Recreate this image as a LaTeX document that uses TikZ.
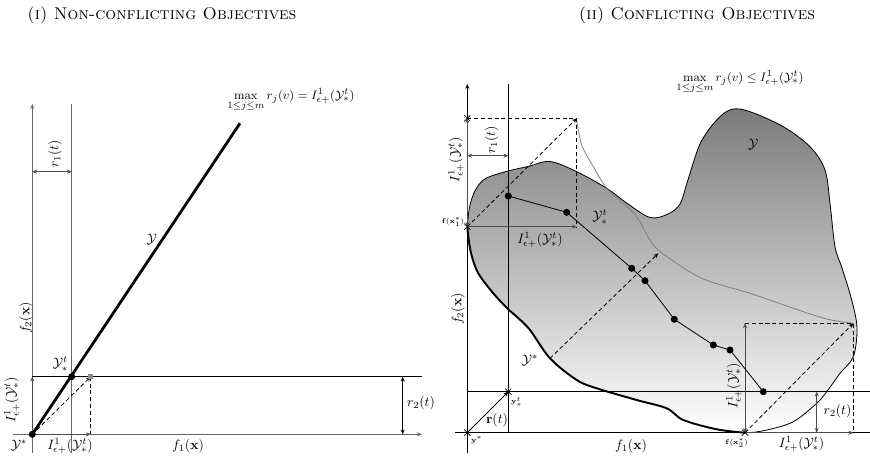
\documentclass[tikz,border=0pt]{standalone}
\usepackage{amsmath,amssymb}
\usetikzlibrary{arrows.meta,shapes.misc}
\tikzset{
  axisline/.style={line width=0.6pt, draw=black},
  gaxis/.style={line width=0.8pt, draw=black!60},
  dimarrow/.style={{Stealth[length=3.5pt,width=3pt]}-{Stealth[length=3.5pt,width=3pt]}, draw=black!70, line width=0.7pt},
  dimone/.style={-{Stealth[length=3.5pt,width=3pt]}, draw=black!70, line width=0.7pt},
  dsh/.style={dashed, line width=0.6pt, dash pattern=on 3pt off 2pt},
  dsharrow/.style={dsh, -{Stealth[length=3.5pt,width=3pt]}},
  bigdot/.style={circle, fill=black, inner sep=0pt, minimum size=5.2pt},
  xmark/.style={cross out, draw=black, inner sep=0pt, minimum size=4pt, line width=0.5pt},
  tinylbl/.style={font=\tiny, inner sep=1pt},
  lbl/.style={inner sep=1pt},
  titlelbl/.style={inner sep=1pt, font=\fontsize{12.5}{15}\selectfont},
  maxlbl/.style={inner sep=1pt, font=\fontsize{9.5}{11}\selectfont},
}
\begin{document}
\begin{tikzpicture}[x=0.735pt,y=-0.735pt]
\useasboundingbox (0,0) rectangle (870,461);

% titles
\node[titlelbl] (t1) at (162,15) {\textsc{(i) Non-conflicting Objectives}};
\node[titlelbl] (t2) at (697,15) {\textsc{(ii) Conflicting Objectives}};

%%%%%%%%%%%%%%%% LEFT PANEL
\coordinate (O1) at (32.3,434.3);
\coordinate (O1b) at (32.3,453);
\coordinate (O1t) at (32.3,104);
\coordinate (V1b) at (71.7,453);
\coordinate (V1t) at (71.7,104);
\coordinate (X1l) at (13,434.3);
\coordinate (X1r) at (421.7,434.3);
\coordinate (H1l) at (32.3,376.7);
\coordinate (H1r) at (421.7,376.7);
\coordinate (YT1) at (71.7,376.7);
\coordinate (Q1) at (90.7,376.7);
\coordinate (Q1b) at (90.7,434.3);
\coordinate (L1) at (240,123.3);
\coordinate (R1a) at (32.3,171.7);
\coordinate (R1b) at (71.7,171.7);
\coordinate (R2a) at (402.7,376.7);
\coordinate (R2b) at (402.7,434.3);

\draw[gaxis,-{Stealth[length=3.5pt,width=3pt]}] (O1b) -- (O1t);
\draw[gaxis] (V1b) -- (V1t);
\draw[gaxis,-{Stealth[length=3.5pt,width=3pt]}] (X1l) -- (X1r);
\draw[axisline] (H1l) -- (H1r);
\draw[dimarrow] (R1a) -- (R1b);
\draw[dimarrow,draw=black] (R2a) -- (R2b);
\draw[dimone,line width=1pt] (O1) -- (H1l);
\draw[dimone] (O1) -- (Q1b);
\draw[dsharrow] (O1) -- (Q1);
\draw[dsh] (Q1) -- (Q1b);
\draw[line width=2pt] (O1) -- (L1);
\node[fill=black!45, inner sep=0pt, minimum size=4pt] (sq) at (Q1) {};
\node[bigdot] (d1) at (O1) {};
\node[bigdot] (d2) at (YT1) {};

\node[lbl] (ly1) at (151.7,240) {$\mathcal{Y}$};
\node[maxlbl] (mx1) at (291,100) {$\max\limits_{1\le j\le m} r_j(v) = I^1_{\epsilon+}(\mathcal{Y}^t_*)$};
\node[lbl] (lyt1) at (60.5,364) {$\mathcal{Y}^t_*$};
\node[lbl] (lys1) at (19,445) {$\mathcal{Y}^*$};
\node[lbl] (li1) at (70,446) {$I^1_{\epsilon+}(\mathcal{Y}^t_*)$};
\node[lbl,rotate=90] (li1v) at (12,400) {$I^1_{\epsilon+}(\mathcal{Y}^t_*)$};
\node[lbl,rotate=90] (lf2a) at (26,318) {$f_2(\mathbf{x})$};
\node[lbl] (lf1a) at (188,446) {$f_1(\mathbf{x})$};
\node[lbl,rotate=90] (lr1a) at (55,154) {$r_1(t)$};
\node[lbl] (lr2a) at (421,403) {$r_2(t)$};

%%%%%%%%%%%%%%%% RIGHT PANEL
\coordinate (O2) at (467.3,432.7);
\coordinate (O2b) at (467.3,453);
\coordinate (O2t) at (467.3,84);
\coordinate (V2b) at (508.3,432.7);
\coordinate (V2t) at (508.3,84);
\coordinate (X2l) at (455,432.7);
\coordinate (X2r) at (870,432.7);
\coordinate (H2l) at (467.3,391.7);
\coordinate (H2r) at (870,391.7);
\coordinate (T2) at (508.3,391.7);
\coordinate (F1) at (467.3,226.7);
\coordinate (A1) at (467.3,118.3);
\coordinate (B1) at (576.7,118.3);
\coordinate (C1) at (576.7,226.7);
\coordinate (F2) at (745,432.7);
\coordinate (A2) at (745,323.3);
\coordinate (B2) at (853.3,323.3);
\coordinate (C2) at (853.3,432.7);
\coordinate (S1) at (467.3,155.7);
\coordinate (S2) at (508.3,155.7);
\coordinate (U1) at (816.7,391.7);
\coordinate (U2) at (816.7,432.7);
\coordinate (M1) at (550,358.3);
\coordinate (M2) at (658.3,253.3);

% region
\shade[top color=black!52, bottom color=white, draw=black, line width=0.6pt]
 plot[smooth cycle, tension=0.55] coordinates {
 (467.3,226.7) (470,205) (476,189) (486,178.3) (508,171) (528,166.5) (550,161.5)
 (576.7,171.7) (606.7,188.3) (626.7,203) (650,217.5) (668,214) (680,204)
 (687,183) (700,144) (716.7,120) (731.7,109.3) (750,111.7) (783.3,126.7)
 (810,146.7) (825,170) (830,203.3) (835,246.7) (842,268) (851.7,300) (857,328)
 (853.3,356.7) (840,373.3) (826.7,391.7) (816.7,403.3) (793.3,421.7) (766.7,430)
 (745,432.7) (716.7,429.3) (683.3,420) (666.7,408.3) (636.7,400) (596.7,388.3)
 (576.7,380) (550,358.3) (530,330) (516.7,316.7) (508.3,309.3) (493.3,293.3)
 (478.3,273.3) (471.5,255) (468.3,237)};
% Pareto front
\draw[line width=1.4pt] plot[smooth, tension=0.55] coordinates {
 (745,432.7) (716.7,429.3) (683.3,420) (666.7,408.3) (636.7,400) (596.7,388.3)
 (576.7,380) (550,358.3) (530,330) (516.7,316.7) (508.3,309.3) (493.3,293.3)
 (478.3,273.3) (471.5,255) (468.3,237) (467.3,226.7)};
% grey curve
\draw[black!50, line width=0.6pt] plot[smooth, tension=0.55] coordinates {
 (576.7,120) (581.7,145) (593.3,166.7) (606.7,188.3) (623.3,203.3) (636.7,216.7)
 (653.3,245) (671.7,260) (703.3,279) (750,293.3) (793.3,308.3) (826.7,319) (853.3,323.3)};

% axes
\draw[axisline,-{Stealth[length=3.5pt,width=3pt]}] (O2b) -- (O2t);
\draw[axisline] (V2b) -- (V2t);
\draw[axisline] (X2l) -- (X2r);
\draw[axisline] (H2l) -- (H2r);

% dashed constructions
\draw[dsh] (A1) -- (B1) -- (C1);
\draw[dsharrow] (F1) -- (B1);
\draw[dsh] (A2) -- (B2) -- (C2);
\draw[dsharrow] (F2) -- (B2);
\draw[dsharrow] (M1) -- (M2);

% dimension arrows
\draw[dimarrow] (F1) -- (A1);
\draw[dimarrow] (S1) -- (S2);
\draw[dimone] (F1) -- (C1);
\draw[dimarrow] (F2) -- (A2);
\draw[dimone] (F2) -- (C2);
\draw[dimarrow] (U1) -- (U2);
\draw[-{Stealth[length=3.5pt,width=3pt]}, line width=0.6pt] (O2) -- (T2);

% polyline of Y^t_*
\coordinate (P1) at (508.3,196);
\coordinate (P2) at (566.7,212.3);
\coordinate (P3) at (631.7,268.3);
\coordinate (P4) at (645,280.7);
\coordinate (P5) at (674.3,319.3);
\coordinate (P6) at (713.3,345);
\coordinate (P7) at (730,350);
\coordinate (P8) at (763.3,391.7);
\draw[line width=0.6pt] (P1) -- (P2) -- (P3) -- (P4) -- (P5) -- (P6) -- (P7) -- (P8);
\foreach \p in {P1,P2,P3,P4,P5,P6,P7,P8} \node[bigdot] (dot\p) at (\p) {};

% crosses
\node[xmark] (xA1) at (A1) {};
\node[xmark] (xF1) at (F1) {};
\node[xmark] (xO2) at (O2) {};
\node[xmark] (xT2) at (T2) {};
\node[xmark] (xF2) at (F2) {};

% labels
\node[lbl] (ly2) at (753.3,145) {$\mathcal{Y}$};
\node[lbl] (lyt2) at (600,217) {$\mathcal{Y}^t_*$};
\node[lbl] (lys2) at (530,360) {$\mathcal{Y}^*$};
\node[maxlbl] (mx2) at (740,82) {$\max\limits_{1\le j\le m} r_j(v) \le I^1_{\epsilon+}(\mathcal{Y}^t_*)$};
\node[tinylbl,anchor=east] (lfx1) at (466,222) {$\mathbf{f}(\mathbf{x}^*_1)$};
\node[lbl] (li2a) at (540,240) {$I^1_{\epsilon+}(\mathcal{Y}^t_*)$};
\node[lbl,rotate=90] (li2b) at (456,160) {$I^1_{\epsilon+}(\mathcal{Y}^t_*)$};
\node[lbl,rotate=90] (lr1b) at (491.7,140) {$r_1(t)$};
\node[tinylbl] (lyt2s) at (516.7,401.7) {$\mathbf{y}^t_*$};
\node[tinylbl] (lys2s) at (476.7,440) {$\mathbf{y}^*$};
\node[lbl] (lrt) at (497,420) {$\mathbf{r}(t)$};
\node[lbl,rotate=90] (lf2b) at (458,309) {$f_2(\mathbf{x})$};
\node[lbl] (lf1b) at (631,446) {$f_1(\mathbf{x})$};
\node[tinylbl] (lfx2) at (736.7,442.7) {$\mathbf{f}(\mathbf{x}^*_2)$};
\node[lbl,rotate=90] (li2c) at (734,386) {$I^1_{\epsilon+}(\mathcal{Y}^t_*)$};
\node[lbl] (li2d) at (801.5,444) {$I^1_{\epsilon+}(\mathcal{Y}^t_*)$};
\node[lbl] (lr2b) at (837.5,411) {$r_2(t)$};
\end{tikzpicture}
\end{document}
